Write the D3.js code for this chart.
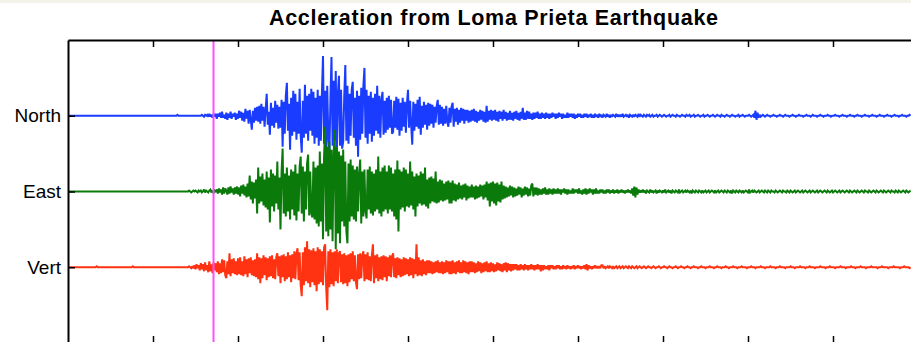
<!DOCTYPE html>
<html>
<head>
<meta charset="utf-8">
<script src="https://cdn.jsdelivr.net/npm/d3@7"></script>
<style>
  html, body { margin: 0; padding: 0; background: #fff; }
  svg { display: block; }
</style>
</head>
<body>
<script>
// Channel names and their vertical offsets on the stacked plot
const channels = ["North", "East", "Vert"];
const channelLevels = [3, 2, 1];
const channelColors = ["#1a3cff", "#0a7a0a", "#ff3312"];

// Time base (s) and trigger marker
const sampleInterval = 0.0125;
const timeDomain = [0, 10];
const triggerTime = 1.712;
const timeTicks = [1, 2, 3, 4, 5, 6, 7, 8, 9];

// Acceleration records, raw counts; 20 samples per row (0.25 s)
const north = [
  0,0,0,0,0,0,0,0,0,0, 0,0,0,0,0,0,0,0,0,0,
  0,0,0,0,0,0,0,0,0,0, 0,0,0,0,0,0,0,0,0,0,
  0,0,0,0,0,0,0,0,0,0, 0,0,0,0,0,0,0,0,0,0,
  0,0,0,0,0,0,0,0,0,0, 0,0,0,0,0,0,0,0,0,0,
  0,0,0,0,0,0,0,0,0,0, 0,0,0,0,0,0,0,0,0,0,
  0,0,0,1,0,0,0,0,0,0, 0,0,0,0,0,0,0,0,0,0,
  0,0,0,0,0,0,1,0,-1,1, 0,1,-1,2,-1,1,-2,2,-1,2,
  -3,2,-1,3,-2,4,-2,1,-3,3, -4,2,-2,4,-3,2,-1,3,-4,2,
  -3,5,-2,4,-5,3,-6,7,-3,5, -8,6,-4,-14,5,-7,8,-5,9,-6,
  10,-8,12,-5,9,-11,6,22,-9,4, -19,13,-10,8,-12,15,-7,11,-13,9,
  -12,16,-31,14,-18,20,33,-15,12,-34, 18,-20,25,-16,22,-24,14,-18,27,-20,
  -37,15,-22,31,-18,20,-25,22,-15,27, -20,24,-28,18,-22,26,-30,20,-25,24,
  60,-28,25,-35,30,-22,-41,18,59,-30, 35,-25,45,-38,22,40,-30,26,-33,-26,
  20,51,-25,30,-28,22,-20,26,34,-22, 18,-30,25,-41,20,-24,28,-18,30,48,
  -22,26,-28,20,-18,24,-26,18,-20,22, -15,30,-18,20,-22,16,24,-19,15,-17,
  18,-14,20,-12,16,-18,-16,15,-12,19, -14,17,-20,13,-15,18,-11,14,-17,12,
  26,-12,15,-10,-29,14,-15,12,-11,16, -13,19,-19,10,-12,14,-9,11,-14,13,
  -10,12,-8,11,-12,9,-7,10,16,-9, 11,-8,9,-10,7,-8,10,-6,-11,8,
  -7,9,13,-11,7,-6,8,-9,6,-7, 8,-5,7,-8,6,-5,6,-7,5,-6,
  6,-5,7,-6,5,-7,4,-5,6,-4, 5,-6,4,-7,10,-6,5,-4,6,-5,
  5,-4,6,-5,4,-6,5,-3,4,-5, 6,-3,4,-5,3,-4,5,-4,3,-5,
  4,-3,5,-4,3,-5,4,-3,8,-4, 3,-4,5,-3,4,-3,2,-4,3,-3,
  3,-2,4,-3,2,-3,3,-2,2,-3, 3,-2,2,-3,2,-2,3,-1,2,-3,
  2,-2,3,-1,2,-3,2,-2,1,-2, 3,-2,2,-1,2,-2,2,-3,1,-2,
  2,-1,2,-2,1,-2,2,-1,2,-2, 1,-1,2,-2,1,-2,2,-1,1,-2,
  2,-1,1,-2,1,0,-1,2,-1,1, -2,1,-1,1,0,-1,2,-1,1,-1,
  1,-1,2,-1,0,1,-1,1,-2,1, 0,-1,1,-1,1,0,-1,2,-1,1,
  0,-1,1,0,-1,1,0,1,-1,0, 1,-1,0,0,1,-1,0,1,0,-1,
  0,1,0,-1,0,0,1,-1,0,1, 0,0,-1,1,0,0,-1,0,1,0,
  0,-1,1,0,0,1,-1,0,0,1, -1,0,0,1,0,-1,0,0,1,-1,
  0,0,1,0,-1,0,0,1,0,-1, 0,1,0,0,-1,1,0,0,-1,0,
  1,0,0,-1,0,1,0,0,-1,0, 0,1,-1,0,0,1,0,-1,0,0,
  0,1,0,-1,0,1,-2,5,-4,3, -2,1,-1,0,1,0,-1,0,1,0,
  0,-1,0,0,1,0,0,-1,0,0, 1,0,0,-1,0,1,0,0,0,-1,
  0,0,1,0,0,-1,0,0,1,0, 0,0,-1,0,0,1,0,0,0,-1,
  0,1,0,0,0,-1,0,0,1,0, 0,-1,0,0,0,1,0,0,-1,0,
  0,0,1,0,0,0,-1,0,0,1, 0,0,0,-1,0,0,1,0,0,0,
  -1,0,0,1,0,0,0,-1,0,0, 1,0,0,0,-1,0,0,1,0,0,
  0,-1,0,0,1,0,0,0,-1,0, 0,1,0,0,0,-1,0,0,1,0,
  0,0,-1,0,0,1,0,0,0,-1, 0,0,1,0
];

const east = [
  0,0,0,0,0,0,0,0,0,0, 0,0,0,0,0,0,0,0,0,0,
  0,0,0,0,0,0,0,0,0,0, 0,0,0,0,0,0,0,0,0,0,
  0,0,0,0,0,0,0,0,0,0, 0,0,0,0,0,0,0,0,0,0,
  0,0,0,0,0,0,0,0,0,0, 0,0,0,0,0,0,0,0,0,0,
  0,0,0,0,0,0,0,0,0,0, 0,0,0,0,0,0,0,0,0,0,
  0,0,0,0,0,0,0,0,0,0, 0,0,0,0,1,0,-1,0,1,0,
  1,0,-1,1,0,1,-1,0,2,-1, 1,0,-1,1,2,-1,1,-2,1,0,
  2,-2,3,-1,2,-3,4,-2,3,1, -3,4,-2,5,-1,3,-3,4,-2,5,
  -3,4,-5,6,-2,7,-4,5,-6,8, -5,16,-8,10,-12,9,-7,12,-22,24,
  -12,15,-10,18,-14,12,-16,20,-18,14, -31,22,-15,18,-20,16,-12,30,-18,14,
  -38,20,43,-22,18,-25,24,-20,16,-28, 22,-18,20,-24,27,-29,18,-20,25,35,
  -22,25,-30,20,-18,28,37,-24,20,-22, -26,30,-28,24,-32,26,-35,40,-30,28,
  -48,35,65,-40,45,-45,50,-38,42,-50, 38,62,-58,45,-42,40,-52,36,-30,42,
  -35,30,-40,-52,28,-30,32,-25,26,-28, 22,-30,25,-20,18,32,-32,20,-25,22,
  -20,-27,22,-18,25,-22,20,-24,18,-20, 22,-18,35,-22,20,-25,24,-20,26,-18,
  20,-22,26,-18,24,-20,18,-25,22,-28, 31,-40,22,-18,20,-16,24,-20,22,-15,
  18,-16,30,-14,20,-18,15,-25,18,-15, 16,-12,20,-14,18,-13,24,-15,12,-17,
  14,-12,15,-10,13,-11,20,-12,10,-11, 12,-9,11,-10,8,-9,10,-8,11,-12,
  9,-12,11,-9,8,-10,7,-8,9,-7, 6,-8,7,-6,8,-9,6,-7,5,-6,
  7,-6,5,-8,6,-7,5,-6,7,-5, 6,-8,7,-6,10,-9,8,-15,9,-10,
  10,-12,8,-14,9,-10,7,-11,10,-8, 6,-7,5,-6,4,-5,6,-4,5,-6,
  4,-5,3,-4,5,-3,4,-6,3,-4, 5,-3,4,-5,3,-4,6,8,-5,4,
  -3,4,-4,3,-3,2,-3,3,-2,4, -3,2,-3,3,-2,2,-3,3,-2,2,
  -2,3,-2,2,-3,2,-1,3,-2,2, -3,2,-2,1,-2,3,-2,2,-1,2,
  -2,3,-2,1,-3,2,-2,3,-3,2, -2,3,-1,2,-3,2,-2,3,-2,1,
  -2,2,-1,2,-2,1,-2,2,-1,2, -2,1,-1,2,-2,1,-1,2,-2,1,
  -1,2,-1,1,-2,1,-1,2,-1,1, -2,3,-4,5,-6,4,-3,2,-1,1,
  -1,2,-1,1,-2,1,0,-1,2,-1, 1,-1,0,1,-2,1,-1,1,0,-1,
  1,-1,2,-1,0,1,-1,1,-2,1, 0,-1,1,0,-1,2,-1,0,1,-1,
  0,1,-1,1,0,-1,1,-2,1,0, -1,1,0,-1,1,0,-1,1,-1,0,
  1,-1,0,1,-1,0,1,0,-1,1, -1,0,1,-1,0,1,0,-1,1,0,
  -1,1,0,-1,1,-2,1,0,-1,1, 0,-1,1,0,-1,1,-1,0,1,0,
  -1,2,-1,0,1,-1,1,0,-1,0, 1,-1,0,1,0,-1,1,0,-1,1,
  0,-1,1,0,0,-1,1,0,-1,0, 1,0,-1,1,0,0,-1,1,0,-1,
  1,0,-1,0,1,-1,0,1,0,-1, 0,1,-1,0,1,0,-1,0,1,-1,
  0,1,0,-1,0,1,-1,0,1,0, -1,0,1,0,-1,1,0,-1,0,1,
  -1,0,1,0,-1,0,1,-1,0,1, 0,-1,0,1,0,-1,1,0,-1,0,
  1,0,-1,1,0,-1,0,1,0,-1, 1,0,0,-1,1,0,-1,0,1,0,
  -1,1,0,-1,0,1,0,-1,1,0, -1,0,1,0,-1,1,0,0,-1,1,
  0,-1,1,0,-1,0,1,0,-1,1, 0,-1,0,1
];

const vert = [
  0,0,0,0,0,0,0,0,0,0, 0,0,0,0,0,0,0,0,0,0,
  0,0,0,0,0,0,0,1,0,0, 0,0,0,0,0,0,0,0,0,0,
  0,0,0,0,0,0,0,0,0,0, 0,0,0,0,0,0,0,0,0,0,
  0,1,0,0,0,0,0,0,0,0, 0,0,0,0,0,0,0,0,0,0,
  0,0,0,0,0,0,0,0,0,0, 0,0,0,0,0,0,0,0,0,0,
  0,0,0,0,0,0,0,0,0,0, 0,0,0,0,1,0,-1,1,-1,2,
  -2,3,-1,2,-3,4,-2,3,-4,5, -3,2,-5,6,-4,3,-6,5,-3,4,
  -5,6,-7,4,-6,8,-5,7,-8,-11, 6,-7,14,-9,8,-6,9,-7,6,-8,
  9,-7,10,-8,6,-9,11,-7,8,-10, 9,-6,10,-8,7,-9,8,-10,14,-12,
  10,-16,9,-11,12,-8,10,-13,9,-10, 11,-9,12,-11,8,-12,10,14,-9,11,
  -16,12,-10,13,-14,11,-12,15,-10,12, -15,13,-11,16,-12,14,19,-13,15,-18,
  -29,15,-18,20,-14,26,-16,18,-20,17, -15,19,-18,16,-24,20,-17,18,-15,16,
  -18,20,23,-20,-43,16,-20,18,-17,15, -19,16,-14,18,-16,14,16,-15,13,-17,
  14,-16,12,-19,13,-15,14,-12,16,-14, 12,-15,-22,13,-12,14,-11,12,16,-14,
  13,-12,15,-13,11,-14,12,23,-16,12, -11,13,-14,10,-12,11,-13,12,-10,11,
  -14,10,-9,12,-10,11,14,-10,9,-11, 10,-8,9,-10,8,-9,10,-8,9,-7,
  8,-9,10,-8,9,-11,8,-7,23,-9, 10,-8,7,-9,8,-7,6,-8,7,-6,
  7,-6,6,-7,5,-6,6,-5,7,-6, 5,-6,6,-7,5,-6,7,-5,6,-7,
  6,-7,7,-6,5,-7,6,-5,7,-6, 5,-6,7,-5,6,-6,5,-7,6,-5,
  6,-5,5,-6,4,-5,6,-4,5,-6, 4,-5,5,-4,6,-5,4,-5,5,-4,
  4,-5,3,-4,5,-3,4,-4,3,-5, 4,-3,5,-5,4,-3,3,-4,3,-3,
  3,-2,3,-3,2,-3,3,-2,2,-3, 3,-2,2,-3,2,-2,3,-2,2,-3,
  2,-2,3,-2,2,-4,2,-3,2,-2, 1,-2,2,-3,2,-1,2,-2,1,-2,
  2,-1,2,-2,1,-2,2,-1,1,-2, 2,-1,1,-2,1,-1,2,-2,1,-1,
  2,-1,1,-2,1,-1,2,-2,3,-3, 2,-1,1,-2,1,-1,2,-1,1,-1,
  1,-1,2,2,-1,1,-1,0,1,-1, 1,0,-1,1,-1,0,1,-1,0,1,
  -1,0,1,-1,0,1,0,-1,1,0, -1,1,0,-1,0,1,-1,0,1,0,
  -1,0,1,0,-1,0,1,0,0,-1, 0,1,0,-1,0,0,1,0,-1,0,
  0,1,0,0,-1,0,1,0,0,-1, 0,0,1,0,-1,0,0,1,0,0,
  -1,0,0,1,0,0,-1,0,0,1, 0,0,0,-1,0,0,1,0,0,0,
  -1,0,0,0,1,0,0,0,-1,0, 0,1,0,0,0,-1,0,0,0,1,
  0,0,-1,0,0,0,1,0,0,0, -1,0,0,0,1,0,0,0,0,-1,
  0,0,0,1,0,0,0,-1,0,0, 0,0,1,0,0,0,-1,0,0,0,
  0,1,0,0,0,0,-1,0,0,0, 1,0,0,0,0,-1,0,0,0,0,
  1,0,0,0,-1,0,0,0,0,1, 0,0,0,0,-1,0,0,0,1,0,
  0,0,0,-1,0,0,0,0,1,0, 0,0,0,-1,0,0,0,1,0,0,
  0,0,-1,0,0,0,0,1,0,0, 0,0,-1,0,0,0,0,1,0,0,
  0,-1,0,0,0,0,1,0,0,0, 0,-1,0,0,0,0,1,0,0,0,
  0,0,-1,0,0,0,1,0,0,0, 0,0,-1,0,0,0,0,1,0,0,
  0,0,0,-1,0,0,0,1,0,0, 0,0,-1,0
];

const records = [north, east, vert];
const countsPerUnit = 76;   // raw counts per unit of channel spacing

// ---- layout ----
const width = 911, height = 342;
const plot = { left: 68, top: 40, right: 918, bottom: 343 };
const fontFamily = "'Liberation Sans', Arial, Helvetica, sans-serif";

const svg = d3.select("body").append("svg")
  .attr("width", width).attr("height", height);

svg.append("rect").attr("width", width).attr("height", height).attr("fill", "#ffffff");
svg.append("rect").attr("width", width).attr("height", 3).attr("fill", "#f3f3ea");

const x = d3.scaleLinear().domain(timeDomain).range([plot.left, plot.right]);
const y = d3.scaleLinear().domain([0, 4]).range([plot.bottom, plot.top]);

svg.append("defs").append("clipPath").attr("id", "plot-clip")
  .append("rect")
  .attr("x", plot.left).attr("y", plot.top)
  .attr("width", plot.right - plot.left).attr("height", plot.bottom - plot.top);

// ---- traces ----
const traces = svg.append("g").attr("clip-path", "url(#plot-clip)");
records.forEach((rec, k) => {
  const level = channelLevels[k];
  const line = d3.line()
    .x((d, i) => x(i * sampleInterval))
    .y(d => y(level + d / countsPerUnit));
  traces.append("path")
    .datum(rec)
    .attr("d", line)
    .attr("fill", "none")
    .attr("stroke", channelColors[k])
    .attr("stroke-width", 2)
    .attr("stroke-linejoin", "miter")
    .attr("stroke-miterlimit", 2);
});

// trigger marker
traces.append("line")
  .attr("x1", x(triggerTime)).attr("x2", x(triggerTime))
  .attr("y1", plot.top).attr("y2", plot.bottom)
  .attr("stroke", "#ff4dff").attr("stroke-width", 2);

// ---- axes ----
function styleAxis(g) {
  g.select(".domain").attr("stroke", "#000").attr("stroke-width", 2);
  g.selectAll(".tick line").attr("stroke", "#000").attr("stroke-width", 1.5);
  g.selectAll(".tick text")
    .attr("fill", "#000")
    .attr("font-family", fontFamily)
    .attr("font-size", 19);
}

svg.append("g")
  .attr("transform", `translate(0,${plot.top})`)
  .call(d3.axisTop(x).tickValues(timeTicks).tickFormat("").tickSizeInner(-7).tickSizeOuter(0))
  .call(styleAxis);

svg.append("g")
  .attr("transform", `translate(0,${plot.bottom})`)
  .call(d3.axisBottom(x).tickValues(timeTicks).tickFormat("").tickSizeInner(-7).tickSizeOuter(0))
  .call(styleAxis);

svg.append("g")
  .attr("transform", `translate(${plot.left},0)`)
  .call(d3.axisLeft(y)
    .tickValues(channelLevels)
    .tickFormat(d => channels[channelLevels.indexOf(d)])
    .tickSizeInner(-7).tickSizeOuter(0).tickPadding(7))
  .call(styleAxis);

svg.append("g")
  .attr("transform", `translate(${plot.right},0)`)
  .call(d3.axisRight(y).tickValues(channelLevels).tickFormat("").tickSizeInner(-7).tickSizeOuter(0))
  .call(styleAxis);

// ---- title ----
svg.append("text")
  .attr("x", 493.5).attr("y", 25)
  .attr("text-anchor", "middle")
  .attr("font-family", fontFamily)
  .attr("font-weight", "bold")
  .attr("font-size", 21.5)
  .attr("textLength", 449)
  .attr("lengthAdjust", "spacing")
  .attr("fill", "#000")
  .text("Accleration from Loma Prieta Earthquake");
</script>
</body>
</html>
